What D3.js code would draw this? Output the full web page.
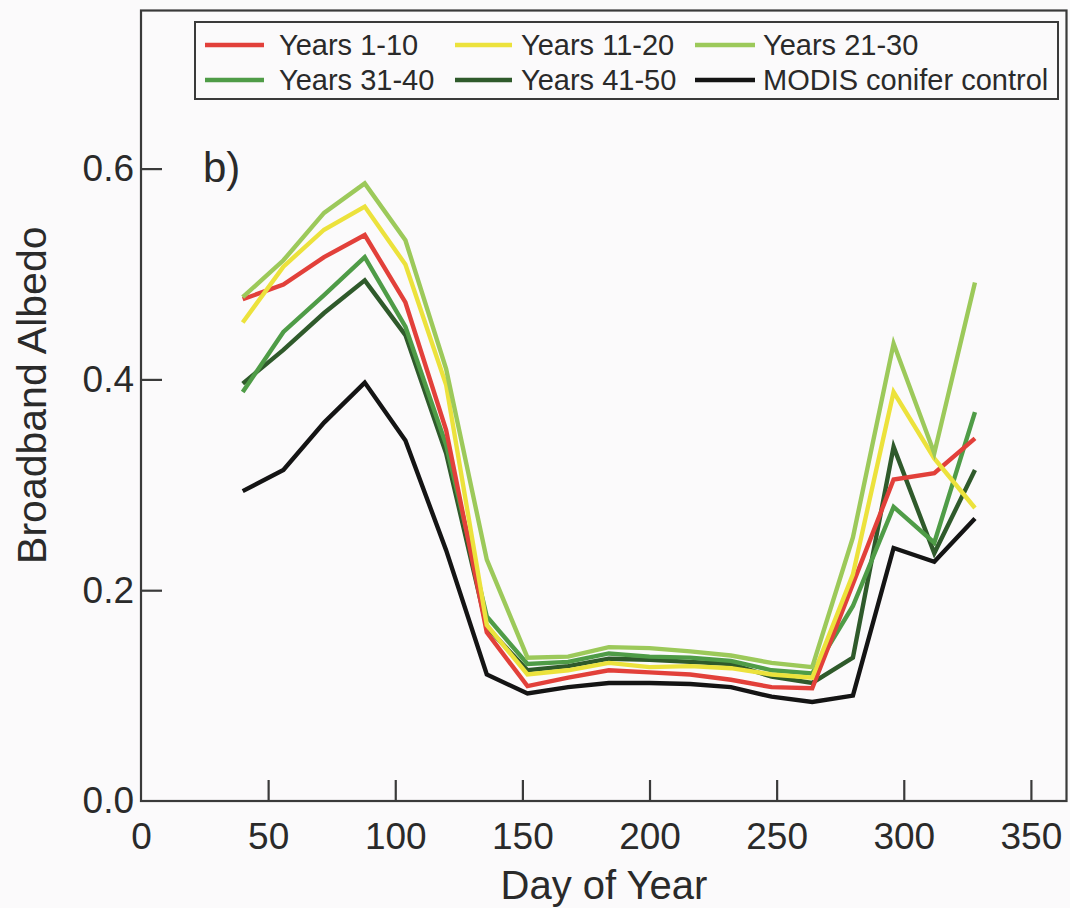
<!DOCTYPE html>
<html><head><meta charset="utf-8">
<script src="https://cdn.jsdelivr.net/npm/d3@7"></script>
<style>
html,body{margin:0;padding:0;background:#fbfafb;}
svg{display:block;}
text{font-family:"Liberation Sans",Arial,sans-serif;fill:#2a2a2a;}
</style></head><body>
<svg id="chart" width="1070" height="908"></svg>
<script>
const days = [40,56,72,88,104,120,136,152,168,184,200,216,232,248,264,280,296,312,328];
const years1_10  = [0.476,0.490,0.516,0.537,0.473,0.352,0.160,0.109,0.117,0.124,0.122,0.120,0.115,0.108,0.107,0.206,0.305,0.311,0.344];
const years11_20 = [0.454,0.507,0.542,0.564,0.509,0.395,0.167,0.120,0.124,0.131,0.127,0.128,0.126,0.120,0.117,0.215,0.388,0.325,0.278];
const years21_30 = [0.478,0.513,0.558,0.586,0.532,0.410,0.229,0.136,0.137,0.146,0.145,0.142,0.138,0.131,0.127,0.250,0.434,0.330,0.492];
const years31_40 = [0.388,0.445,0.480,0.516,0.450,0.338,0.175,0.130,0.132,0.140,0.137,0.136,0.133,0.124,0.121,0.185,0.279,0.245,0.369];
const years41_50 = [0.396,0.428,0.463,0.494,0.442,0.330,0.165,0.124,0.128,0.135,0.134,0.132,0.130,0.118,0.112,0.136,0.336,0.235,0.314];
const modisControl = [0.294,0.314,0.359,0.397,0.342,0.238,0.120,0.102,0.108,0.112,0.112,0.111,0.108,0.099,0.094,0.100,0.240,0.227,0.268];
const seriesNames = ["Years 1-10","Years 11-20","Years 21-30","Years 31-40","Years 41-50","MODIS conifer control"];
const seriesColors = ["#e2403a","#ece23c","#9cc95a","#4f9c47","#2f5a2b","#141414"];
const xTicks = [0,50,100,150,200,250,300,350];
const yTicks = [0.0,0.2,0.4,0.6];

const seriesValues = [years1_10,years11_20,years21_30,years31_40,years41_50,modisControl];
const series = seriesNames.map((n,i)=>({name:n,color:seriesColors[i],values:seriesValues[i]}));

const svg = d3.select("#chart");
const x = d3.scaleLinear().domain([0,364]).range([141,1066.5]);
const y = d3.scaleLinear().domain([0,0.75]).range([801,10.5]);

// frame
svg.append("rect").attr("x",x(0)).attr("y",y(0.75)).attr("width",x(364)-x(0)).attr("height",y(0)-y(0.75))
  .attr("fill","none").attr("stroke","#3a3a3a").attr("stroke-width",2.2);

// axes (ticks inward)
const xAxis = d3.axisBottom(x).tickValues(xTicks).tickSizeInner(-21).tickSizeOuter(0).tickPadding(22).tickFormat(d3.format("d"));
const gx = svg.append("g").attr("transform",`translate(0,${y(0)})`).call(xAxis);
gx.select(".domain").remove();
gx.selectAll(".tick line").attr("stroke","#3a3a3a").attr("stroke-width",2.2);
gx.selectAll(".tick").filter(d=>d===0).select("line").remove();
gx.selectAll("text").attr("font-size",37).attr("fill","#2a2a2a");

const yAxis = d3.axisLeft(y).tickValues(yTicks).tickSizeInner(-21).tickSizeOuter(0).tickPadding(7).tickFormat(d3.format(".1f"));
const gy = svg.append("g").attr("transform",`translate(${x(0)},0)`).call(yAxis);
gy.select(".domain").remove();
gy.selectAll(".tick line").attr("stroke","#3a3a3a").attr("stroke-width",2.2);
gy.selectAll(".tick").filter(d=>d===0).select("line").remove();
gy.selectAll("text").attr("font-size",37).attr("fill","#2a2a2a");

// axis titles
svg.append("text").attr("x",604).attr("y",899).attr("text-anchor","middle")
  .attr("font-size",40).text("Day of Year");
svg.append("text").attr("transform",`translate(46,${y(0.385)}) rotate(-90)`).attr("text-anchor","middle")
  .attr("font-size",41).text("Broadband Albedo");

// panel label
svg.append("text").attr("x",203).attr("y",182).attr("font-size",42).text("b)");

// lines
const line = d3.line().x((d,i)=>x(days[i])).y(d=>y(d));
const drawOrder = [5,4,3,0,1,2];
drawOrder.forEach(i=>{
  svg.append("path").datum(series[i].values).attr("d",line)
    .attr("fill","none").attr("stroke",series[i].color).attr("stroke-width",4.4)
    .attr("stroke-linejoin","miter").attr("stroke-linecap","butt");
});

// legend
const lg = svg.append("g");
lg.append("rect").attr("x",195).attr("y",22).attr("width",863).attr("height",77)
  .attr("fill","#fbfafb").attr("stroke","#3a3a3a").attr("stroke-width",2);
const colX = [[205,264,279],[455,512,521],[695,755,763]];
series.forEach((s,i)=>{
  const row = Math.floor(i/3), col = i%3;
  const cy = row===0 ? 45 : 80;
  const [l0,l1,tx] = colX[col];
  lg.append("line").attr("x1",l0).attr("x2",l1).attr("y1",cy).attr("y2",cy)
    .attr("stroke",s.color).attr("stroke-width",4.5);
  lg.append("text").attr("x",tx).attr("y",cy).attr("dy","0.36em").attr("font-size",29).text(s.name);
});
</script>
</body></html>
